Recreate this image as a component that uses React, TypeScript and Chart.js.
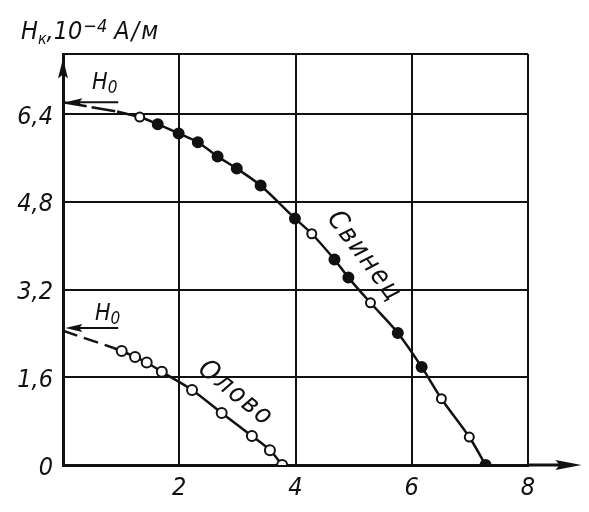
import React, { useEffect, useRef } from 'react';
import { Chart, registerables } from 'chart.js';

Chart.register(...registerables);

// Axis ticks
const xTicks = [0, 2, 4, 6, 8];
const yTicks = [0, 1.6, 3.2, 4.8, 6.4];
const xMax = 8;
const yTop = 7.5;

// Lead (Свинец): measured points, T in K, Hк in 10^4 A/m
const leadT = [1.32, 1.63, 1.99, 2.32, 2.66, 2.99, 3.4, 3.99, 4.28, 4.67, 4.91, 5.29, 5.76, 6.17, 6.51, 6.99, 7.27];
const leadH = [6.35, 6.22, 6.05, 5.89, 5.63, 5.41, 5.1, 4.5, 4.22, 3.75, 3.42, 2.96, 2.41, 1.79, 1.21, 0.51, 0];
const leadFilled = [false, true, true, true, true, true, true, true, false, true, true, false, true, true, false, false, true];
// Lead curve start and extrapolation to T = 0
const leadStartT = 0.93;
const leadStartH = 6.45;
const leadH0 = 6.62;

// Tin (Олово): measured points
const tinT = [1.01, 1.24, 1.44, 1.7, 2.22, 2.73, 3.25, 3.56, 3.77];
const tinH = [2.08, 1.97, 1.87, 1.7, 1.37, 0.95, 0.53, 0.27, 0];
const tinStartT = 0.86;
const tinStartH = 2.14;
const tinH0 = 2.5;
const tinH0Line = 2.45;

const FONT = '"Liberation Sans Narrow", "DejaVu Sans Condensed", "Liberation Sans", sans-serif';
const INK = '#111';

function xy(ts: number[], hs: number[]) {
  return ts.map((t, i) => ({ x: t, y: hs[i] }));
}

const annotations = {
  id: 'annotations',
  beforeDraw(chart: any) {
    const ctx = chart.ctx;
    ctx.save();
    ctx.fillStyle = '#fff';
    ctx.fillRect(0, 0, chart.width, chart.height);
    ctx.restore();
  },
  afterDraw(chart: any) {
    const ctx: CanvasRenderingContext2D = chart.ctx;
    const xs = chart.scales.x;
    const ys = chart.scales.y;
    const px = (v: number) => xs.getPixelForValue(v);
    const py = (v: number) => ys.getPixelForValue(v);
    ctx.save();
    ctx.strokeStyle = INK;
    ctx.fillStyle = INK;
    ctx.lineCap = 'butt';

    // x-axis extension with arrow
    const x0 = px(xMax);
    const xTip = px(8.92);
    const yAx = py(0);
    ctx.lineWidth = 3;
    ctx.beginPath();
    ctx.moveTo(x0, yAx);
    ctx.lineTo(xTip - 10, yAx);
    ctx.stroke();
    ctx.beginPath();
    ctx.moveTo(xTip, yAx);
    ctx.lineTo(xTip - 26, yAx - 5);
    ctx.lineTo(xTip - 22, yAx);
    ctx.lineTo(xTip - 26, yAx + 5);
    ctx.closePath();
    ctx.fill();

    // y-axis arrow head
    const xAx = px(0);
    const yTip = py(7.42);
    ctx.beginPath();
    ctx.moveTo(xAx, yTip);
    ctx.lineTo(xAx - 5, yTip + 20);
    ctx.lineTo(xAx, yTip + 16);
    ctx.lineTo(xAx + 5, yTip + 20);
    ctx.closePath();
    ctx.fill();

    // H0 arrows
    const drawH0 = (h: number) => {
      const yA = py(h);
      const xa = px(0.04);
      const xb = px(0.95);
      ctx.lineWidth = 2;
      ctx.beginPath();
      ctx.moveTo(xa + 8, yA);
      ctx.lineTo(xb, yA);
      ctx.stroke();
      ctx.beginPath();
      ctx.moveTo(xa, yA);
      ctx.lineTo(xa + 17, yA - 4);
      ctx.lineTo(xa + 14, yA);
      ctx.lineTo(xa + 17, yA + 4);
      ctx.closePath();
      ctx.fill();
    };
    drawH0(leadH0);
    drawH0(tinH0);

    // H0 labels
    const drawH0Label = (t: number, h: number) => {
      const x = px(t);
      const y = py(h);
      ctx.textAlign = 'left';
      ctx.textBaseline = 'alphabetic';
      ctx.font = `italic 23px ${FONT}`;
      ctx.fillText('H', x, y);
      const w = ctx.measureText('H').width;
      ctx.font = `italic 17px ${FONT}`;
      ctx.fillText('0', x + w, y + 4);
    };
    drawH0Label(0.5, 6.86);
    drawH0Label(0.55, 2.65);

    // Curve labels
    const drawRot = (text: string, t: number, h: number, deg: number, size: number, spacing: number) => {
      ctx.save();
      ctx.translate(px(t), py(h));
      ctx.rotate((deg * Math.PI) / 180);
      ctx.font = `italic ${size}px ${FONT}`;
      (ctx as any).letterSpacing = `${spacing}px`;
      ctx.textAlign = 'center';
      ctx.textBaseline = 'middle';
      ctx.fillText(text, 0, 0);
      ctx.restore();
    };
    drawRot('Свинец', 5.18, 3.8, 53, 27, 2);
    drawRot('Олово', 2.97, 1.3, 39, 27, 2);

    // Y-axis title, laid out piece by piece
    ctx.textAlign = 'left';
    ctx.textBaseline = 'alphabetic';
    const pieces: [string, number, number, number, number][] = [
      // text, size, target x, baseline, min gap
      ['H', 25, 21, 39, 0],
      ['к', 16, 36, 44, 0],
      [',', 25, 43, 39, 0],
      ['10', 25, 49, 39, 0],
      ['−4', 18, 72, 32, 1],
      ['А/м', 25, 101, 39, 7],
    ];
    let cursor = 0;
    for (const [txt, size, tx, base, gap] of pieces) {
      ctx.font = `italic ${size}px ${FONT}`;
      (ctx as any).letterSpacing = txt === 'А/м' ? '2px' : '0px';
      const x = Math.max(tx, cursor + gap);
      ctx.fillText(txt, x, base);
      cursor = x + ctx.measureText(txt).width;
    }
    (ctx as any).letterSpacing = '0px';

    ctx.font = `italic 25px ${FONT}`;
    ctx.fillText('T, K', px(8.27), py(-1.76));
    ctx.restore();
  },
};

export default function App() {
  const ref = useRef<HTMLCanvasElement>(null);
  useEffect(() => {
    if (!ref.current) return;
    const tickFont = { family: FONT, style: 'italic' as const, size: 25 };
    const chart = new Chart(ref.current, {
      type: 'scatter',
      data: {
        datasets: [
          {
            data: xy(leadT, leadH),
            showLine: false,
            pointRadius: leadFilled.map((f) => (f ? 5 : 4.5)),
            pointBackgroundColor: leadFilled.map((f) => (f ? INK : '#fff')),
            pointBorderColor: INK,
            pointBorderWidth: 2,
            order: 0,
          },
          {
            data: xy(tinT, tinH),
            showLine: false,
            pointRadius: 5,
            pointBackgroundColor: '#fff',
            pointBorderColor: INK,
            pointBorderWidth: 2,
            order: 0,
          },
          {
            data: xy([leadStartT, ...leadT], [leadStartH, ...leadH]),
            showLine: true,
            borderColor: INK,
            borderWidth: 2.5,
            pointRadius: 0,
            tension: 0.3,
            order: 1,
          },
          {
            data: xy([tinStartT, ...tinT], [tinStartH, ...tinH]),
            showLine: true,
            borderColor: INK,
            borderWidth: 2.5,
            pointRadius: 0,
            tension: 0.3,
            order: 1,
          },
          {
            data: xy([0, leadStartT], [leadH0, leadStartH]),
            showLine: true,
            borderColor: INK,
            borderWidth: 2.5,
            borderDash: [24, 5],
            pointRadius: 0,
            order: 1,
          },
          {
            data: xy([0, tinStartT], [tinH0Line, tinStartH]),
            showLine: true,
            borderColor: INK,
            borderWidth: 2.5,
            borderDash: [15, 7],
            pointRadius: 0,
            order: 1,
          },
        ],
      },
      options: {
        animation: false,
        responsive: false,
        layout: { padding: { top: 54, right: 61, left: 0, bottom: 0 } },
        plugins: { legend: { display: false }, tooltip: { enabled: false }, title: { display: false } },
        scales: {
          x: {
            type: 'linear',
            min: 0,
            max: xMax,
            afterFit: (s: any) => {
              s.height = 47;
            },
            afterBuildTicks: (s: any) => {
              s.ticks = xTicks.map((v) => ({ value: v }));
            },
            grid: { color: INK, lineWidth: 2, drawTicks: false },
            border: { color: INK, width: 3 },
            ticks: {
              padding: 8,
              font: tickFont,
              color: INK,
              maxRotation: 0,
              callback: (v: any) => (v === 0 ? '' : String(v)),
            },
          },
          y: {
            type: 'linear',
            min: 0,
            max: yTop,
            afterFit: (s: any) => {
              s.width = 63;
            },
            afterBuildTicks: (s: any) => {
              s.ticks = [...yTicks, yTop].map((v) => ({ value: v }));
            },
            grid: { color: INK, lineWidth: 2, drawTicks: false },
            border: { color: INK, width: 3 },
            ticks: {
              padding: 10,
              font: tickFont,
              color: INK,
              labelOffset: 3,
              callback: (v: any) => (v === yTop ? '' : String(v).replace('.', ',')),
            },
          },
        },
      },
      plugins: [annotations],
    });
    return () => chart.destroy();
  }, []);
  return (
    <canvas
      ref={ref}
      width={589}
      height={512}
      style={{ position: 'fixed', left: 0, top: 0, width: 589, height: 512, display: 'block' }}
    />
  );
}
